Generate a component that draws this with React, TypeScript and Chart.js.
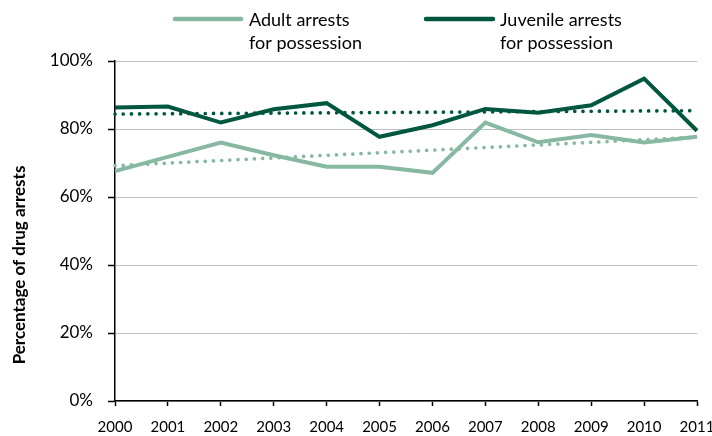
import React, { useEffect, useRef } from "react";
import { Chart, registerables } from "chart.js";

Chart.register(...registerables);

const years = ["2000", "2001", "2002", "2003", "2004", "2005", "2006", "2007", "2008", "2009", "2010", "2011"];
const adultPossession = [67.6, 71.8, 76.0, 72.3, 68.9, 68.9, 67.1, 81.9, 76.1, 78.2, 76.0, 77.7];
const juvenilePossession = [86.3, 86.6, 81.9, 85.8, 87.6, 77.7, 81.1, 85.9, 84.8, 87.0, 94.8, 79.5];
// trendline values at first and last year
const adultTrendEnds = [69.2, 77.6];
const juvenileTrendEnds = [84.4, 85.4];
const yTickValues = [0, 20, 40, 60, 80, 100];
const adultLegend = ["Adult arrests", "for possession"];
const juvenileLegend = ["Juvenile arrests", "for possession"];
const yTitle = "Percentage of drug arrests";

const LIGHT = "#86B8A2";
const DARK = "#00573F";

const legendPlugin = {
  id: "twoLineLegend",
  afterDraw(chart: any) {
    const ctx = chart.ctx;
    const entries = [
      { color: LIGHT, lines: adultLegend, x0: 175, x1: 241, tx: 249 },
      { color: DARK, lines: juvenileLegend, x0: 426, x1: 493, tx: 500 },
    ];
    ctx.save();
    for (const e of entries) {
      ctx.beginPath();
      ctx.strokeStyle = e.color;
      ctx.lineWidth = 4.5;
      ctx.lineCap = "round";
      ctx.moveTo(e.x0, 19);
      ctx.lineTo(e.x1, 19);
      ctx.stroke();
      ctx.fillStyle = "#000";
      ctx.font = "18px Lato";
      ctx.textAlign = "left";
      ctx.textBaseline = "alphabetic";
      ctx.fillText(e.lines[0], e.tx, 26);
      ctx.fillText(e.lines[1], e.tx, 48.5);
    }
    // y axis title
    ctx.translate(20, 265);
    ctx.rotate(-Math.PI / 2);
    ctx.font = "bold 17px Lato";
    ctx.textAlign = "center";
    ctx.textBaseline = "middle";
    ctx.fillStyle = "#000";
    ctx.fillText(yTitle, 0, 0);
    ctx.restore();
  },
};

export default function App() {
  const canvasRef = useRef<HTMLCanvasElement | null>(null);

  useEffect(() => {
    const canvas = canvasRef.current;
    if (!canvas) return;
    Chart.defaults.font.family = "Lato";
    const chart = new Chart(canvas, {
      type: "line",
      data: {
        labels: years,
        datasets: [
          {
            label: "Adult trend",
            data: [
              { x: years[0], y: adultTrendEnds[0] },
              { x: years[years.length - 1], y: adultTrendEnds[1] },
            ],
            borderColor: LIGHT,
            borderWidth: 3.7,
            borderDash: [0.01, 8.2],
            borderCapStyle: "round",
            pointRadius: 0,
            fill: false,
            order: 0,
          },
          {
            label: "Juvenile trend",
            data: [
              { x: years[0], y: juvenileTrendEnds[0] },
              { x: years[years.length - 1], y: juvenileTrendEnds[1] },
            ],
            borderColor: DARK,
            borderWidth: 3.7,
            borderDash: [0.01, 8.2],
            borderCapStyle: "round",
            pointRadius: 0,
            fill: false,
            order: 1,
          },
          {
            label: adultLegend.join(" "),
            data: adultPossession,
            borderColor: LIGHT,
            borderWidth: 4,
            pointRadius: 0,
            fill: false,
            tension: 0,
            order: 3,
          },
          {
            label: juvenileLegend.join(" "),
            data: juvenilePossession,
            borderColor: DARK,
            borderWidth: 4,
            pointRadius: 0,
            fill: false,
            tension: 0,
            order: 2,
          },
        ],
      } as any,
      options: {
        responsive: false,
        animation: false,
        layout: { padding: { top: 61, left: 0, right: 0, bottom: 0 } },
        plugins: {
          legend: { display: false },
          tooltip: { enabled: false },
          title: { display: false },
        },
        scales: {
          x: {
            type: "category",
            offset: false,
            afterFit(scale: any) {
              scale.height = 35;
              scale.paddingRight = 15;
            },
            grid: {
              display: true,
              drawOnChartArea: false,
              drawTicks: true,
              tickLength: 5,
              tickColor: "#000",
              tickWidth: 1.5,
            },
            border: { display: true, color: "#000", width: 1.5 },
            ticks: {
              color: "#000",
              font: { family: "Lato", size: 15 },
              padding: 12,
              maxRotation: 0,
              autoSkip: false,
            },
          },
          y: {
            min: 0,
            max: 100,
            afterFit(scale: any) {
              scale.width = 115;
            },
            afterBuildTicks(scale: any) {
              scale.ticks = yTickValues.map((v) => ({ value: v }));
            },
            grid: {
              color: "#BFBFBF",
              lineWidth: 1,
              drawTicks: true,
              tickLength: 7,
              tickColor: "#000",
              tickWidth: 1.5,
            },
            border: { display: true, color: "#000", width: 1.5 },
            ticks: {
              color: "#000",
              font: { family: "Lato", size: 17 },
              padding: 15,
              callback: (v: any) => `${v}%`,
            },
          },
        },
      } as any,
      plugins: [legendPlugin],
    });
    return () => chart.destroy();
  }, []);

  return (
    <div style={{ position: "absolute", left: 0, top: 0, width: 712, height: 436, background: "#fff" }}>
      <canvas ref={canvasRef} width={712} height={436} style={{ width: 712, height: 436, display: "block" }} />
    </div>
  );
}
